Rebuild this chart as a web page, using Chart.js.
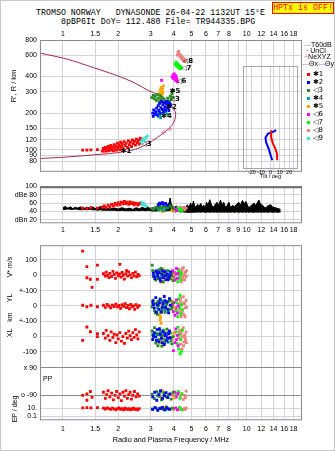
<!DOCTYPE html>
<html>
<head>
<meta charset="utf-8">
<script src="https://cdn.jsdelivr.net/npm/chart.js@4/dist/chart.umd.min.js"></script>
<style>
  body { margin: 0; background: #fff; }
  #wrap { position: relative; width: 335px; height: 451px; overflow: hidden; box-sizing: border-box;
          border: 1px solid #c8c8c8; font-family: "Liberation Sans", Arial, sans-serif; font-size: 7px; color: #000; }
  canvas { position: absolute; }
  .t { position: absolute; white-space: pre; line-height: 1; }
  .mono { font-family: "Liberation Mono", "DejaVu Sans Mono", monospace; font-size: 8.3px; }
  .rot { transform: translate(-50%, -50%) rotate(-90deg); }
  #hptx { position: absolute; left: 271px; top: 1px; width: 60px; height: 10px; background: #ffff00; border: 1px solid #ff0000;
          color: #ff0000; text-align: center; line-height: 10px; }
  .sq { position: absolute; width: 3px; height: 3px; }
</style>
</head>
<body>
<div id="wrap">
  <div class="t mono" style="left:35px;top:8px">TROMSO NORWAY   DYNASONDE 26-04-22 1132UT 15°E</div>
  <div class="t mono" style="left:60px;top:17px">8pBP6It DoY= 112.480 File= TR944335.BPG</div>
  <div id="hptx" class="mono">HPTx is OFF!</div>

  <canvas id="cMain" width="335" height="153" style="left:0;top:25px"></canvas>
  <canvas id="cTilt" width="55" height="114" style="left:242px;top:65px"></canvas>
  <canvas id="cDb" width="335" height="58" style="left:0;top:178px"></canvas>
  <canvas id="cLow" width="335" height="214" style="left:0;top:237px"></canvas>

  <div class="t rot" style="left:13px;top:85px;font-size:7.5px">R', R / km</div>
  <div class="t rot" style="left:8px;top:266px">V* m/s</div>
  <div class="t rot" style="left:8px;top:297px">YL</div>
  <div class="t rot" style="left:8px;top:316px">km</div>
  <div class="t rot" style="left:8px;top:332px">XL</div>
  <div class="t" style="left:42px;top:374px">PP</div>
  <div class="t rot" style="left:13px;top:408px">EP / deg</div>

  <div id="legend"></div>
</div>

<script>
// frequency axis (MHz) shared by all panels
const freqTicks = [1, 1.5, 2, 3, 4, 5, 6, 7, 8, 9, 10, 12, 14, 16, 18];
const heightTicks = [80, 90, 100, 120, 150, 200, 300, 400, 600, 800];
const dbTicks = [20, 40, 60, 80, 100];
const dbTickLabels = ['dBn 20', '40', '60', 'dBe 80', '100'];
const tiltTicks = [-20, -10, 0, 10, 20];
const lowerTicks = [['V', 100, '100'], ['V', 0, '0'], ['V', -100, '+-100'], ['YL', 0, '0'], ['YL', -100, '+-100'],
  ['XL', 0, '0'], ['XL', -100, '-100'], ['PP', 90, 'x 90'], ['PP', -90, 'o -90'], ['EP', 10, '10.'], ['EP', 0.1, '0.1']];

const classNames = ['✱1', '✱2', '◁3', '✱4', '✱5', '◁6', '◁7', '◁8', '◁9'];
const classColors = ['#ff0000', '#0000ff', '#228b22', '#009c9c', '#ffa500', '#ff00ff', '#00ff00', '#f08080', '#40e0d0'];

// model profile and NeXYZ points (MHz, km)
const profile = [[0.75, 625], [1.06, 555], [1.36, 492], [1.61, 452], [1.98, 406], [2.44, 356], [2.88, 310], [3.27, 283],
  [3.63, 252], [3.86, 234], [4.03, 216], [4.11, 196], [4.06, 176], [3.94, 160], [3.63, 142], [3.27, 126], [2.89, 112],
  [2.55, 102], [2.15, 96], [1.82, 93], [1.61, 91.5], [1.06, 87], [0.75, 84.4]];
const neXYZ = [[1.69, 93.5], [1.88, 96.3], [2.08, 100.5], [2.27, 104], [3.54, 139], [3.82, 148]];

// echo heights (MHz, km)
const echo1 = [[1.28, 99], [1.35, 99], [1.42, 99.5], [1.54, 100], [1.64, 97], [1.66, 102], [1.68, 99], [1.70, 104], [1.72, 97],
  [1.74, 101], [1.76, 106], [1.78, 98], [1.80, 103], [1.82, 108], [1.84, 100], [1.86, 105], [1.88, 98], [1.90, 110], [1.92, 102],
  [1.94, 107], [1.96, 99], [1.98, 113], [2.00, 104], [2.02, 109], [2.04, 100], [2.06, 115], [2.08, 106], [2.10, 111], [2.12, 102],
  [2.15, 116], [2.18, 108], [2.21, 113], [2.24, 104], [2.27, 118], [2.30, 110], [2.33, 115], [2.36, 106], [2.39, 120], [2.42, 112],
  [2.45, 117], [2.48, 109], [2.51, 122], [2.54, 114], [2.57, 119], [2.60, 111], [2.63, 124]];
const echo2 = [[3.08, 200], [3.10, 188], [3.12, 212], [3.16, 195], [3.20, 205], [3.24, 220], [3.27, 192], [3.30, 230], [3.33, 210],
  [3.36, 240], [3.38, 200], [3.41, 222], [3.44, 250], [3.47, 215], [3.50, 235], [3.53, 205], [3.56, 245], [3.59, 225], [3.62, 212],
  [3.65, 238], [3.68, 250], [3.71, 220], [3.74, 232], [3.77, 210], [3.80, 242], [3.83, 226], [3.86, 235]];
const echo3 = [[3.05, 268], [3.10, 280], [3.14, 262], [3.18, 275], [3.22, 255], [3.26, 285], [3.30, 265], [3.34, 248], [3.38, 278],
  [3.42, 258], [3.46, 270], [3.50, 245], [3.55, 262], [3.60, 252], [3.66, 240], [3.72, 265], [3.78, 250], [3.84, 275], [3.88, 258],
  [3.92, 290], [3.96, 270], [4.00, 305]];
const echo4 = [[3.26, 198], [3.30, 188], [3.33, 205], [3.37, 193], [3.40, 183], [3.44, 200], [3.55, 215], [3.62, 205], [3.70, 196]];
const echo5 = [[3.36, 290], [3.38, 310], [3.40, 275], [3.42, 325], [3.44, 300], [3.46, 285], [3.48, 315], [3.50, 295], [3.52, 335], [3.40, 260]];
const echo6 = [[3.44, 372], [3.93, 395], [3.97, 412], [4.00, 382], [4.04, 420], [4.07, 398], [4.10, 370], [4.13, 405], [4.16, 385], [4.20, 362]];
const echo7 = [[4.08, 505], [4.12, 525], [4.15, 490], [4.18, 515], [4.21, 480], [4.24, 500], [4.28, 470], [4.32, 490], [4.36, 462], [4.40, 478]];
const echo8 = [[4.20, 600], [4.23, 625], [4.26, 645], [4.30, 610], [4.34, 585], [4.38, 600], [4.42, 560], [4.46, 575], [4.50, 545],
  [4.55, 560], [4.60, 530], [4.64, 545]];
const echo9 = [[2.58, 117], [2.62, 121], [2.66, 115], [2.70, 119], [2.74, 123], [2.78, 118], [2.83, 126], [2.88, 129]];
const echoTags = [[2.14, 97.5, '✱1'], [2.77, 110, '◁3'], [3.55, 189, '✱4'], [3.78, 223, '✱2'], [3.95, 259, '◁3'],
  [3.95, 301, '✱5'], [4.29, 365, '◁6'], [4.56, 472, '◁7'], [4.66, 532, '◁8']];

// tilt inset (deg, km)
const thetaX = [[0.75, 158], [0.75, 138], [2.6, 124], [5.1, 114], [6.9, 104], [7.2, 92]];
const thetaY = [[6.1, 158], [2.6, 153], [-2.8, 148], [-5.4, 138], [-4.6, 126], [-2.1, 114], [-0.3, 103], [1.8, 92]];

// noise level (MHz, dB top, dB bottom)
const noiseFreq = [1.0, 1.03, 1.06, 1.1, 1.13, 1.17, 1.2, 1.25, 1.3, 1.35, 1.4, 1.45, 1.5, 1.55, 1.6, 1.65, 1.7, 1.8, 1.9, 2.0,
  2.1, 2.2, 2.3, 2.4, 2.5, 2.6, 2.7, 2.8, 2.9, 3.0, 3.1, 3.2, 3.3, 3.4, 3.5, 3.6, 3.7, 3.78, 3.83, 3.88, 3.95, 4.05, 4.15, 4.25,
  4.35, 4.45, 4.55, 4.65, 4.75, 4.85, 4.95, 5.05, 5.13, 5.2, 5.3, 5.4, 5.5, 5.62, 5.72, 5.83, 5.95, 6.05, 6.15, 6.3, 6.45, 6.6,
  6.75, 6.9, 7.05, 7.2, 7.35, 7.5, 7.65, 7.8, 8.0, 8.17, 8.35, 8.6, 8.8, 9.06, 9.25, 9.47, 9.7, 9.9, 10.1, 10.27, 10.5, 10.96,
  11.2, 11.45, 11.66, 11.9, 12.2, 12.45, 12.7, 13.0, 13.5, 13.9, 14.3, 14.8, 15.3];
const noiseTop = [49, 52, 48, 51, 47, 50, 48, 51, 47, 50, 48, 51, 47, 49, 52, 47, 49, 46, 48, 46,
  49, 46, 48, 45, 49, 46, 50, 47, 51, 46, 49, 47, 52, 48, 53, 49, 56, 60, 72, 58, 52, 50, 53, 48,
  51, 47, 52, 49, 56, 50, 60, 52, 65, 54, 50, 57, 52, 59, 51, 55, 50, 62, 55, 68, 54, 51,
  57, 62, 55, 67, 56, 62, 50, 53, 62, 49, 54, 52, 57, 62, 55, 66, 58, 64, 55, 49, 53, 60,
  54, 62, 67, 57, 55, 50, 49, 53, 56, 50, 49, 47, 45];
const noiseLow = [45, 45, 46, 45, 45, 46, 45, 44, 45, 44, 45, 44, 44, 43, 44, 43, 43, 43, 43, 42,
  43, 42, 42, 42, 43, 42, 43, 42, 43, 42, 41, 41, 42, 41, 42, 41, 42, 42, 43, 42, 41, 40, 40, 40,
  39, 39, 39, 38, 38, 38, 38, 38, 38, 38, 39, 38, 39, 38, 39, 39, 38, 38, 39, 38, 39, 38,
  39, 38, 39, 38, 39, 38, 39, 38, 39, 38, 39, 38, 39, 38, 39, 38, 39, 38, 39, 38, 39, 38,
  39, 38, 39, 38, 39, 38, 39, 38, 39, 38, 39, 38, 39];

// echo amplitudes (MHz, dB)
const db1 = [[1.28, 48], [1.35, 47], [1.42, 49], [1.54, 48], [1.64, 50], [1.68, 53], [1.72, 49], [1.76, 55], [1.80, 51], [1.84, 57],
  [1.88, 53], [1.92, 59], [1.96, 55], [2.00, 61], [2.04, 56], [2.08, 62], [2.12, 58], [2.16, 64], [2.20, 59], [2.24, 62], [2.28, 57],
  [2.32, 63], [2.36, 59], [2.40, 61], [2.44, 56], [2.48, 60], [2.52, 58], [2.56, 55], [2.60, 59]];
const db2 = [[3.30, 56], [3.36, 60], [3.42, 58], [3.48, 61], [3.55, 57], [3.62, 59], [3.70, 55]];
const db3 = [[3.05, 47], [3.12, 45], [3.20, 50], [3.28, 47], [3.36, 52], [3.44, 49], [3.52, 54], [3.62, 51], [3.72, 48], [3.82, 53], [3.92, 50], [4.00, 46]];
const db4 = [[3.32, 44], [3.40, 47], [3.48, 43], [3.58, 46], [3.68, 49]];
const db5 = [[3.40, 42], [3.45, 45], [3.50, 40], [3.55, 46], [3.92, 43], [4.00, 41]];
const db6 = [[3.95, 44], [4.00, 48], [4.05, 41], [4.10, 46], [4.16, 43]];
const db7 = [[4.14, 45], [4.20, 48], [4.28, 43], [4.36, 46], [4.44, 42]];
const db8 = [[4.28, 46], [4.36, 50], [4.44, 47], [4.52, 49], [4.60, 44], [4.68, 48]];
const db9 = [[2.62, 58], [2.66, 62], [2.70, 56], [2.74, 60], [2.78, 55], [2.84, 53]];

// velocity V* (m/s), YL, XL (km), polarisation PP and EP (deg)
const v1 = [[1.28, 157], [1.35, 56], [1.54, 66], [2.04, 71], [2.22, 30], [1.35, -16], [1.41, -26], [1.44, -79], [1.54, -26],
  [1.66, 10], [1.70, -5], [1.72, 20], [1.75, 0], [1.78, -15], [1.80, 12], [1.84, -8], [1.87, 25], [1.90, 5], [1.93, -20], [1.96, 15],
  [2.00, -3], [2.03, 8], [2.07, -12], [2.10, 18], [2.13, 0], [2.16, -25], [2.20, 10], [2.25, -6], [2.28, 22], [2.32, 2], [2.36, -15],
  [2.40, 12], [2.44, -4], [2.48, 20], [2.52, -10], [2.56, 5], [2.60, -2]];
const yl1 = [[1.28, 5], [1.35, -5], [1.42, 5], [1.54, -5], [1.66, 5], [1.70, -8], [1.74, 10], [1.78, 0], [1.82, -12], [1.86, 6],
  [1.90, -3], [1.94, 12], [1.98, -6], [2.02, 3], [2.06, -15], [2.10, 8], [2.14, -2], [2.18, 15], [2.22, -10], [2.26, 4], [2.30, -18],
  [2.34, 10], [2.38, -5], [2.42, 0], [2.46, -22], [2.50, 8], [2.55, -8], [2.60, 2]];
const xl1 = [[1.28, -25], [1.35, 62], [1.41, 31], [1.54, 19], [1.54, 0], [1.66, 20], [1.70, -10], [1.72, 40], [1.76, 5], [1.80, -25],
  [1.83, 30], [1.87, -5], [1.90, 15], [1.94, -40], [1.97, 10], [2.00, -15], [2.04, 25], [2.08, -30], [2.12, 0], [2.16, -45], [2.20, 20],
  [2.24, -10], [2.28, 35], [2.32, 5], [2.36, -20], [2.40, 25], [2.44, -5], [2.48, 45], [2.52, 10], [2.56, -15], [2.60, 30]];
const pp1 = [[1.28, -90], [1.35, -80], [1.41, -65], [1.35, -122], [1.44, -103], [1.66, -70], [1.70, -110], [1.73, -85], [1.76, -60],
  [1.80, -100], [1.84, -75], [1.88, -120], [1.92, -90], [1.96, -65], [2.00, -105], [2.04, -80], [2.08, -125], [2.12, -70], [2.16, -95],
  [2.20, -60], [2.24, -110], [2.28, -85], [2.32, -70], [2.36, -115], [2.40, -90], [2.45, -65], [2.50, -100], [2.55, -80], [2.60, -95]];
const ep1 = [[1.28, 10.5], [1.35, 10.8], [1.42, 10.5], [1.54, 10.8], [1.66, 10], [1.70, 9], [1.74, 10.5], [1.78, 9.5], [1.82, 8.5],
  [1.86, 10], [1.90, 9], [1.94, 8], [1.98, 9.5], [2.02, 10.5], [2.06, 8.5], [2.10, 9.5], [2.14, 8], [2.18, 10], [2.22, 9], [2.26, 8.5],
  [2.30, 9.5], [2.34, 8], [2.38, 9], [2.42, 10], [2.46, 8.5], [2.50, 9], [2.55, 8], [2.60, 9.5]];

const v2 = [[3.10, 12], [3.13, -2], [3.16, -22], [3.22, 28], [3.25, 14], [3.28, -6], [3.34, 18], [3.37, -20], [3.40, -38], [3.46, 4],
  [3.49, 30], [3.52, -16], [3.58, 24], [3.61, -4], [3.64, -28], [3.70, 8], [3.73, -30], [3.78, -12], [3.82, 2], [3.86, 20]];
const yl2 = [[3.08, 30], [3.11, 10], [3.14, -12], [3.20, 55], [3.23, -40], [3.26, 8], [3.32, -22], [3.35, 20], [3.38, 42], [3.44, -38],
  [3.47, -8], [3.50, 15], [3.56, 62], [3.59, 34], [3.62, -8], [3.68, 25], [3.71, -20], [3.76, -45], [3.80, 48], [3.84, 5]];
const xl2 = [[3.08, -20], [3.11, 5], [3.14, 25], [3.20, -2], [3.23, -25], [3.26, 45], [3.32, -35], [3.35, 52], [3.38, 15], [3.44, -12],
  [3.47, -40], [3.50, 32], [3.56, -52], [3.59, 20], [3.62, 6], [3.68, -28], [3.71, -10], [3.76, 18], [3.80, 36], [3.84, -8]];
const pp2 = [[3.08, -100], [3.16, -70], [3.24, -122], [3.32, -85], [3.40, -60], [3.48, -110], [3.56, -92], [3.64, -72], [3.72, -105], [3.82, -80]];
const ep2 = [[3.08, 8.5], [3.18, 10.5], [3.28, 7.5], [3.38, 9.5], [3.48, 11], [3.58, 8], [3.68, 10], [3.80, 9]];

const v3 = [[3.06, 66], [3.08, 30], [3.10, -8], [3.15, 22], [3.18, -14], [3.20, -32], [3.26, 2], [3.29, -22], [3.32, 34], [3.38, -18],
  [3.42, 44], [3.45, 12], [3.52, -42], [3.56, 0], [3.60, 16], [3.68, -6], [3.72, -18], [3.76, 28], [3.84, -24], [3.88, -4], [3.92, 8], [3.98, -35]];
const yl3 = [[3.06, -5], [3.08, 16], [3.10, 38], [3.15, -30], [3.18, -45], [3.20, 18], [3.26, -55], [3.29, 30], [3.32, 4], [3.38, 46],
  [3.42, -30], [3.45, -16], [3.52, 26], [3.56, -6], [3.60, -42], [3.68, 12], [3.72, 30], [3.76, -24], [3.84, 34], [3.88, -20], [3.92, -8], [3.98, 20]];
const xl3 = [[3.06, 36], [3.08, 12], [3.10, -6], [3.15, 58], [3.18, 20], [3.20, -42], [3.26, 18], [3.29, -60], [3.32, -20], [3.38, 40],
  [3.42, 2], [3.45, -62], [3.52, 10], [3.56, -44], [3.60, -30], [3.68, 48], [3.72, 26], [3.76, -12], [3.84, 22], [3.88, -28], [3.92, -48], [3.98, 0]];
const pp3 = [[3.06, -82], [3.14, -112], [3.24, -66], [3.34, -96], [3.44, -120], [3.54, -74], [3.64, -100], [3.76, -88], [3.88, -115], [3.98, -70]];
const ep3 = [[3.06, 9], [3.16, 11], [3.28, 8], [3.40, 10], [3.52, 9], [3.66, 11.5], [3.80, 8.5], [3.94, 10]];

const v4 = [[3.28, 6], [3.34, -24], [3.40, 36], [3.46, -10], [3.52, 20], [3.58, -2], [3.66, 30], [3.74, -18]];
const yl4 = [[3.28, -10], [3.34, 22], [3.40, -42], [3.46, 32], [3.52, 0], [3.58, -26], [3.66, 14], [3.74, -34]];
const xl4 = [[3.28, 12], [3.34, -30], [3.40, 26], [3.46, -6], [3.52, 42], [3.58, -20], [3.66, 4], [3.74, -38]];
const pp4 = [[3.28, -92], [3.38, -70], [3.48, -115], [3.58, -84], [3.70, -100]];
const ep4 = [[3.30, 9.5], [3.44, 10.5], [3.58, 8], [3.70, 9]];

const v5 = [[3.36, -30], [3.39, 10], [3.42, -46], [3.45, 26], [3.48, -14], [3.52, 40], [3.56, -4], [3.62, -26], [3.92, -20], [4.00, 6]];
const yl5 = [[3.36, -60], [3.38, -92], [3.40, -75], [3.42, -112], [3.45, -45], [3.48, 8], [3.52, -20], [3.56, 20], [3.95, 30], [4.02, -10]];
const xl5 = [[3.36, -40], [3.40, 20], [3.44, -20], [3.48, -60], [3.52, 4], [3.56, 34], [3.60, -14], [3.95, -10], [4.02, 22]];
const pp5 = [[3.36, -76], [3.42, -105], [3.48, -60], [3.56, -90], [3.95, -80], [4.02, -108]];
const ep5 = [[3.38, 10], [3.48, 9], [3.58, 11], [3.96, 8.5]];

const v6 = [[3.95, 30], [3.99, -12], [4.03, 18], [4.07, -32], [4.11, 6], [4.15, 44], [4.19, -20], [4.23, 12]];
const yl6 = [[3.95, 10], [3.99, -36], [4.03, 24], [4.07, -60], [4.11, -14], [4.15, 40], [4.19, -46], [4.23, 0]];
const xl6 = [[3.95, -10], [3.99, -92], [4.03, 24], [4.07, -40], [4.11, 50], [4.15, -20], [4.19, 8], [4.23, -60]];
const pp6 = [[3.96, -86], [4.06, -70], [4.14, -102], [4.22, -78]];
const ep6 = [[4.00, 9], [4.10, 10.5], [4.20, 8]];

const v7 = [[4.14, -20], [4.18, 14], [4.22, -42], [4.26, 30], [4.30, -6], [4.34, 20], [4.38, -30], [4.42, 8]];
const yl7 = [[4.14, -30], [4.18, 20], [4.22, -70], [4.26, 46], [4.30, -10], [4.34, 70], [4.38, -52], [4.42, 10], [4.46, -24]];
const xl7 = [[4.14, 30], [4.18, -44], [4.22, 60], [4.26, -80], [4.30, 10], [4.34, -112], [4.38, -20], [4.42, -96], [4.46, 40]];
const pp7 = [[4.14, -90], [4.24, -64], [4.34, -110], [4.44, -80]];
const ep7 = [[4.18, 9], [4.30, 11], [4.42, 8]];

const v8 = [[4.28, 40], [4.30, 10], [4.32, -20], [4.36, 14], [4.38, -20], [4.40, -42], [4.44, 26], [4.46, 42], [4.48, -10], [4.52, 50],
  [4.54, -28], [4.56, 0], [4.60, -30], [4.62, 12], [4.64, 20], [4.68, -8], [4.70, 30]];
const yl8 = [[4.28, 10], [4.30, -20], [4.32, -40], [4.36, 30], [4.38, 50], [4.40, -70], [4.44, 6], [4.46, -44], [4.48, -26], [4.52, 60],
  [4.54, 20], [4.56, -56], [4.60, 16], [4.62, -70], [4.64, -12], [4.68, 36], [4.70, -8]];
const xl8 = [[4.28, -10], [4.30, 26], [4.32, 40], [4.36, -50], [4.38, -20], [4.40, 20], [4.44, -80], [4.46, 44], [4.48, 0], [4.52, 56],
  [4.54, -60], [4.56, -36], [4.60, 10], [4.62, -8], [4.64, -20], [4.68, 30], [4.70, -40]];
const pp8 = [[4.28, -70], [4.36, -100], [4.44, -80], [4.52, -116], [4.60, -90], [4.68, -62], [4.64, -105]];
const ep8 = [[4.28, 9], [4.38, 10], [4.48, 8], [4.58, 9.5], [4.68, 10.5], [4.64, 8.5]];

const GRID = '#d2d2da';
const FRAME = '#8c8c8c';
Chart.defaults.font.family = '"Liberation Sans", Arial, sans-serif';
Chart.defaults.font.size = 7;
Chart.defaults.color = '#000';

// vertical rows of the lower panel: zero offset and scale in plot pixels
const rowScale = { V: [151, 0.16], YL: [119, 0.16], XL: [87.2, 0.16], PP: [40.3, 0.159], EP: [4.2, 0.84] };
const rowPos = (row, v) => rowScale[row][0] + v * rowScale[row][1];

function pts(arr) { return arr.map(([x, y]) => ({ x, y })); }

function dots(arr, color, map) {
  return {
    data: arr.map(([x, y]) => ({ x, y: map ? map(y) : y })),
    showLine: false, pointStyle: 'rect', pointRadius: 2, pointBorderWidth: 0,
    pointBackgroundColor: color, borderColor: color, backgroundColor: color
  };
}

function freqAxis(position, h, pad, labelNine, title) {
  return {
    type: 'logarithmic', position, min: 0.75, max: 20,
    afterBuildTicks: s => { s.ticks = freqTicks.map(v => ({ value: v })); },
    afterFit: s => { s.height = h; },
    grid: { color: GRID, drawTicks: false },
    border: { display: false },
    ticks: { autoSkip: false, maxRotation: 0, padding: pad,
      callback: v => (v === 9 && !labelNine) ? '' : String(v) },
    title: title ? { display: true, text: title, font: { size: 7.25 }, padding: { top: 0, bottom: 8 } } : { display: false }
  };
}

const framePlugin = {
  id: 'frame',
  afterDatasetsDraw(chart, args, o) {
    const a = chart.chartArea, ctx = chart.ctx;
    ctx.save();
    ctx.strokeStyle = o.color || FRAME;
    ctx.lineWidth = 1;
    ctx.strokeRect(a.left + 0.5, a.top + 0.5, a.right - a.left - 1, a.bottom - a.top - 1);
    if (o.topColor) {
      ctx.strokeStyle = o.topColor;
      ctx.lineWidth = 2;
      ctx.beginPath(); ctx.moveTo(a.left, a.top + 1); ctx.lineTo(a.right, a.top + 1); ctx.stroke();
    }
    ctx.restore();
  }
};

const tagPlugin = {
  id: 'tags',
  afterDatasetsDraw(chart) {
    const { ctx, scales } = chart;
    ctx.save();
    ctx.fillStyle = '#000';
    ctx.font = 'bold 7px "DejaVu Sans", sans-serif';
    ctx.textBaseline = 'middle';
    echoTags.forEach(([f, h, txt]) => {
      ctx.fillText(txt, scales.x.getPixelForValue(f) - 3, scales.y.getPixelForValue(h));
    });
    ctx.restore();
  }
};

const base = { responsive: false, animation: false, events: [] };
const noLegend = { legend: { display: false }, tooltip: { enabled: false } };

// main height panel
const echoes = [echo1, echo2, echo3, echo4, echo5, echo6, echo7, echo8, echo9];
new Chart(document.getElementById('cMain'), {
  type: 'line',
  data: {
    datasets: [
      ...echoes.map((e, i) => dots(e, classColors[i])),
      { data: pts(neXYZ), showLine: false, pointStyle: 'cross', pointRadius: 2.5, pointBorderWidth: 1,
        borderColor: '#e8789a', pointBorderColor: '#e8789a' },
      { data: pts(profile), borderColor: '#a8284a', borderWidth: 1, pointRadius: 0, tension: 0.3, fill: false }
    ]
  },
  options: {
    ...base,
    layout: { padding: { right: 34 } },
    plugins: { ...noLegend, frame: { color: FRAME } },
    scales: {
      x: freqAxis('top', 14, 1.5, false),
      y: {
        type: 'logarithmic', min: 65.6, max: 800,
        afterBuildTicks: s => { s.ticks = heightTicks.map(v => ({ value: v })); },
        afterFit: s => { s.width = 39; },
        grid: { color: GRID, drawTicks: false },
        border: { display: false },
        ticks: { padding: 3, autoSkip: false, callback: v => String(v) }
      }
    }
  },
  plugins: [framePlugin, tagPlugin]
});

// tilt inset
new Chart(document.getElementById('cTilt'), {
  type: 'line',
  data: {
    datasets: [
      { data: pts(thetaX), borderColor: '#ff0000', borderWidth: 2, pointRadius: 0, fill: false },
      { data: pts(thetaY), borderColor: '#0000ff', borderWidth: 2, pointRadius: 0, fill: false }
    ]
  },
  options: {
    ...base,
    layout: { padding: 0 },
    plugins: { ...noLegend, frame: { color: '#a4a4bc' } },
    scales: {
      x: {
        type: 'linear', min: -29.5, max: 29.5,
        afterBuildTicks: s => { s.ticks = tiltTicks.map(v => ({ value: v })); },
        afterFit: s => { s.height = 11; },
        grid: { color: GRID, drawTicks: false },
        border: { display: false },
        ticks: { font: { size: 5.5 }, padding: 0, autoSkip: false, maxRotation: 0 },
        title: { display: true, text: 'Tilt / deg', font: { size: 5.5 }, padding: 0 }
      },
      y: { type: 'logarithmic', display: false, min: 78.5, max: 501 }
    }
  },
  plugins: [framePlugin]
});

// amplitude panel
const dbs = [db1, db2, db3, db4, db5, db6, db7, db8, db9];
new Chart(document.getElementById('cDb'), {
  type: 'line',
  data: {
    datasets: [
      ...dbs.map((e, i) => dots(e, classColors[i])),
      { data: noiseFreq.map((f, i) => ({ x: f, y: noiseTop[i] })), borderColor: '#000', backgroundColor: '#000',
        borderWidth: 1, pointRadius: 0, fill: '+1' },
      { data: noiseFreq.map((f, i) => ({ x: f, y: noiseLow[i] })), borderColor: '#000', borderWidth: 1, pointRadius: 0, fill: false }
    ]
  },
  options: {
    ...base,
    layout: { padding: { right: 34 } },
    plugins: { ...noLegend, frame: { color: FRAME, topColor: '#707070' } },
    scales: {
      x: freqAxis('bottom', 13.7, 2.2, true),
      y: {
        type: 'linear', min: 12, max: 100,
        afterBuildTicks: s => { s.ticks = dbTicks.map(v => ({ value: v })); },
        afterFit: s => { s.width = 39; },
        grid: { color: GRID, drawTicks: false },
        border: { display: false },
        ticks: { padding: 3, autoSkip: false, callback: (v, i) => dbTickLabels[i] }
      }
    }
  },
  plugins: [framePlugin]
});

// lower panel: V*, YL, XL, PP, EP rows
const rowSets = [
  [v1, yl1, xl1, pp1, ep1], [v2, yl2, xl2, pp2, ep2], [v3, yl3, xl3, pp3, ep3], [v4, yl4, xl4, pp4, ep4],
  [v5, yl5, xl5, pp5, ep5], [v6, yl6, xl6, pp6, ep6], [v7, yl7, xl7, pp7, ep7], [v8, yl8, xl8, pp8, ep8]
];
const rowNames = ['V', 'YL', 'XL', 'PP', 'EP'];
const lowDatasets = [];
rowSets.forEach((set, i) => {
  set.forEach((arr, r) => lowDatasets.push(dots(arr, classColors[i], v => rowPos(rowNames[r], v))));
});

new Chart(document.getElementById('cLow'), {
  type: 'line',
  data: { datasets: lowDatasets },
  options: {
    ...base,
    layout: { padding: { right: 34 } },
    plugins: { ...noLegend, frame: { color: FRAME } },
    scales: {
      x: freqAxis('bottom', 31.7, 4.8, false, 'Radio and Plasma Frequency / MHz'),
      y: {
        type: 'linear', min: 0, max: 182.3,
        afterBuildTicks: s => { s.ticks = lowerTicks.map(([row, v]) => ({ value: rowPos(row, v) })); },
        afterFit: s => { s.width = 39; },
        grid: { drawTicks: false, color: c => (c.tick && lowerTicks[c.index] && lowerTicks[c.index][0] === 'PP') ? '#8c8c8c' : GRID },
        border: { display: false },
        ticks: { padding: 3, autoSkip: false, callback: (v, i) => lowerTicks[i][2] }
      }
    }
  },
  plugins: [framePlugin]
});

// legend on the right of the height panel
const legend = document.getElementById('legend');
const top0 = 73;
legend.innerHTML =
  '<div class="t" style="left:303px;top:40px"><span style="color:#999">—</span>T60dB</div>' +
  '<div class="t" style="left:303px;top:46px">&nbsp;· UnCl</div>' +
  '<div class="t" style="left:303px;top:52px"><span style="color:#e8789a">+</span>NeXYZ</div>' +
  '<div class="t" style="left:301px;top:59px"><span style="color:#e8789a">—</span>Θx<span style="color:#8080ff">—</span>Θy</div>' +
  classNames.map((n, i) =>
    '<div class="sq" style="left:306px;top:' + (top0 + i * 8.1 - 1.5) + 'px;background:' + classColors[i] + '"></div>' +
    '<div class="t" style="left:312px;top:' + (top0 + i * 8.1 - 3.5) + 'px;font-family:\'DejaVu Sans\',sans-serif;font-size:7px">' + n + '</div>'
  ).join('');
</script>
</body>
</html>
